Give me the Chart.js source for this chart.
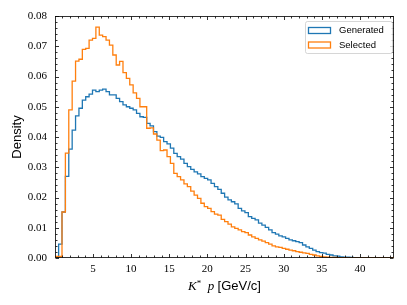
<!DOCTYPE html>
<html>
<head>
<meta charset="utf-8">
<script src="https://cdn.jsdelivr.net/npm/chart.js@4.4.1/dist/chart.umd.min.js"></script>
<style>
  html, body { margin: 0; padding: 0; background: #ffffff; }
  #wrap { width: 407px; height: 305px; }
</style>
</head>
<body>
<div id="wrap"><canvas id="c" width="407" height="305"></canvas></div>
<script>
// ---- data ----
const BIN_START = 0.06;   // first bin edge [GeV/c]
const BIN_WIDTH = 0.444;  // bin width [GeV/c]
const seriesLabels = ["Generated", "Selected"];

const generated = [
  0, 0.0046, 0.0152, 0.027, 0.036, 0.0423, 0.047, 0.0495, 0.0522, 0.0533,
  0.0542, 0.0555, 0.055, 0.0555, 0.0558, 0.055, 0.0539, 0.0539, 0.0528, 0.0517,
  0.0506, 0.05, 0.0495, 0.049, 0.0478, 0.0467, 0.0465, 0.0445, 0.0437, 0.0418,
  0.0403, 0.0399, 0.0385, 0.0377, 0.0363, 0.0346, 0.0335, 0.0327, 0.0313, 0.0302,
  0.0293, 0.0285, 0.0278, 0.0269, 0.0263, 0.0258, 0.0247, 0.0236, 0.0227, 0.0214,
  0.0201, 0.0192, 0.0186, 0.0179, 0.0164, 0.0156, 0.015, 0.0137, 0.0131, 0.0126,
  0.0115, 0.0109, 0.0101, 0.0093, 0.0084, 0.0079, 0.0073, 0.007, 0.0065, 0.006,
  0.0057, 0.0054, 0.0051, 0.0043, 0.0037, 0.0032, 0.0026, 0.0021, 0.0018, 0.0016,
  0.0012, 0.001, 0.0007, 0.0006, 0.0004, 0.0003, 0.0003, 0.0002, 0.0001, 0.0001,
  0.0001, 0, 0, 0, 0, 0, 0, 0, 0, 0
];

const selected = [
  0.0005, 0.0005, 0.0152, 0.0347, 0.049, 0.0585, 0.0651, 0.0657, 0.069, 0.0693,
  0.072, 0.0726, 0.0763, 0.0737, 0.0732, 0.072, 0.0704, 0.0671, 0.0638, 0.065,
  0.0613, 0.0594, 0.0572, 0.0546, 0.0528, 0.05, 0.05, 0.0429, 0.043, 0.041,
  0.039, 0.0355, 0.0357, 0.0335, 0.0313, 0.028, 0.0269, 0.0258, 0.0245, 0.0236,
  0.0221, 0.0208, 0.0197, 0.0181, 0.017, 0.0164, 0.0153, 0.0145, 0.0142, 0.0128,
  0.012, 0.0112, 0.0103, 0.0098, 0.0093, 0.0087, 0.0084, 0.0076, 0.007, 0.0065,
  0.006, 0.0056, 0.0051, 0.0046, 0.004, 0.0037, 0.0035, 0.0032, 0.0029, 0.0026,
  0.0024, 0.0021, 0.0019, 0.0017, 0.0015, 0.0012, 0.001, 0.0007, 0.0005, 0.0004,
  0.0003, 0.0002, 0.0002, 0.0001, 0.0001, 0.0001, 0, 0, 0, 0,
  0, 0, 0, 0, 0, 0, 0, 0, 0, 0
];

const xTicks = [5, 10, 15, 20, 25, 30, 35, 40];
const yTicks = [0.00, 0.01, 0.02, 0.03, 0.04, 0.05, 0.06, 0.07, 0.08];
const yTickLabels = ["0.00", "0.01", "0.02", "0.03", "0.04", "0.05", "0.06", "0.07", "0.08"];
const X_MIN = 0.03, X_MAX = 44.46, Y_MIN = 0, Y_MAX = 0.08;
const X_MINOR_STEP = 1, Y_MINOR_STEP = 0.002;

// ---- build step-histogram points from bins ----
// Chart.js 'before' stepping holds each value from its own x to the next x.
function stepPoints(values) {
  const pts = [{ x: BIN_START, y: 0 }];
  values.forEach((v, i) => pts.push({ x: BIN_START + i * BIN_WIDTH, y: v }));
  const end = BIN_START + values.length * BIN_WIDTH;
  pts.push({ x: end, y: values[values.length - 1] });
  pts.push({ x: end, y: 0 });
  return pts;
}

const colors = ["#1f77b4", "#ff7f0e"];
const SERIF = "'Liberation Serif', 'DejaVu Serif', serif";
const SANS = "'Liberation Sans', 'DejaVu Sans', sans-serif";

const axesPlugin = {
  id: 'mplAxes',
  afterDatasetsDraw(chart) {
    const ctx = chart.ctx;
    const a = chart.chartArea;
    const xs = chart.scales.x, ys = chart.scales.y;
    ctx.save();
    // frame
    ctx.strokeStyle = '#000';
    ctx.lineWidth = 0.8;
    ctx.strokeRect(Math.round(a.left) + 0.5, Math.round(a.top) + 0.5,
                   Math.round(a.right - a.left) - 1, Math.round(a.bottom - a.top) - 1);
    const L = a.left + 0.5, R = a.right - 0.5, T = a.top + 0.5, B = a.bottom - 0.5;
    ctx.beginPath();
    for (let v = Math.ceil(X_MIN); v <= X_MAX; v += X_MINOR_STEP) {
      const px = Math.round(xs.getPixelForValue(v)) + 0.5;
      const len = xTicks.includes(v) ? 3.5 : 2;
      ctx.moveTo(px, B); ctx.lineTo(px, B - len);
      ctx.moveTo(px, T); ctx.lineTo(px, T + len);
    }
    for (let k = 0; k <= Math.round((Y_MAX - Y_MIN) / Y_MINOR_STEP); k++) {
      const v = Y_MIN + k * Y_MINOR_STEP;
      const py = Math.round(ys.getPixelForValue(v)) + 0.5;
      const len = (k % 5 === 0) ? 3.5 : 2;
      ctx.moveTo(L, py); ctx.lineTo(L + len, py);
      ctx.moveTo(R, py); ctx.lineTo(R - len, py);
    }
    ctx.stroke();

    // tick labels
    ctx.fillStyle = '#000';
    ctx.font = '11px ' + SERIF;
    ctx.textAlign = 'center';
    ctx.textBaseline = 'middle';
    xTicks.forEach(v => ctx.fillText(String(v), xs.getPixelForValue(v), a.bottom + 11));
    ctx.textAlign = 'right';
    yTicks.forEach((v, i) => ctx.fillText(yTickLabels[i], a.left - 8, ys.getPixelForValue(v)));

    // y axis title
    ctx.save();
    ctx.translate(17, (a.top + a.bottom) / 2);
    ctx.rotate(-Math.PI / 2);
    ctx.textAlign = 'center';
    ctx.textBaseline = 'middle';
    ctx.font = '13px ' + SANS;
    ctx.fillText('Density', 0, 0);
    ctx.restore();

    // x axis title: K* p [GeV/c]
    const parts = [
      { t: 'K', f: 'italic 13px ' + SERIF, dy: 0 },
      { t: '*', f: '9px ' + SERIF, dy: -4 },
      { t: '  ', f: '13px ' + SERIF, dy: 0 },
      { t: 'p', f: 'italic 13px ' + SERIF, dy: 0 },
      { t: ' ', f: '13px ' + SERIF, dy: 0 },
      { t: '[GeV/c]', f: '13px ' + SANS, dy: 0 }
    ];
    let total = 0;
    parts.forEach(p => { ctx.font = p.f; p.w = ctx.measureText(p.t).width; total += p.w; });
    let x0 = (a.left + a.right) / 2 - total / 2;
    ctx.textAlign = 'left';
    ctx.textBaseline = 'alphabetic';
    parts.forEach(p => { ctx.font = p.f; ctx.fillText(p.t, x0, 290 + p.dy); x0 += p.w; });

    // legend
    const lx = 305.5, ly = 21.5, lw = 87, lh = 32;
    ctx.beginPath();
    if (ctx.roundRect) ctx.roundRect(lx, ly, lw, lh, 2); else ctx.rect(lx, ly, lw, lh);
    ctx.fillStyle = 'rgba(255,255,255,0.8)';
    ctx.fill();
    ctx.strokeStyle = '#cccccc';
    ctx.lineWidth = 0.8;
    ctx.stroke();
    ctx.font = '9.5px ' + SANS;
    ctx.textBaseline = 'middle';
    seriesLabels.forEach((lab, i) => {
      const sy = 27.5 + i * 14.5;
      ctx.strokeStyle = colors[i];
      ctx.lineWidth = 1.3;
      ctx.strokeRect(308.5, sy, 22, 6);
      ctx.fillStyle = '#000';
      ctx.fillText(lab, 339, sy + 3);
    });
    ctx.restore();
  }
};

new Chart(document.getElementById('c'), {
  type: 'line',
  data: {
    datasets: [
      { label: seriesLabels[0], data: stepPoints(generated), borderColor: colors[0],
        borderWidth: 1.3, stepped: 'before', pointRadius: 0, fill: false, order: 2 },
      { label: seriesLabels[1], data: stepPoints(selected), borderColor: colors[1],
        borderWidth: 1.3, stepped: 'before', pointRadius: 0, fill: false, order: 1 }
    ]
  },
  options: {
    responsive: false,
    animation: false,
    devicePixelRatio: 1,
    layout: { padding: { left: 55, right: 13, top: 16, bottom: 47 } },
    scales: {
      x: { type: 'linear', min: X_MIN, max: X_MAX, display: false },
      y: { type: 'linear', min: Y_MIN, max: Y_MAX, display: false }
    },
    plugins: { legend: { display: false }, tooltip: { enabled: false } }
  },
  plugins: [axesPlugin]
});
</script>
</body>
</html>
